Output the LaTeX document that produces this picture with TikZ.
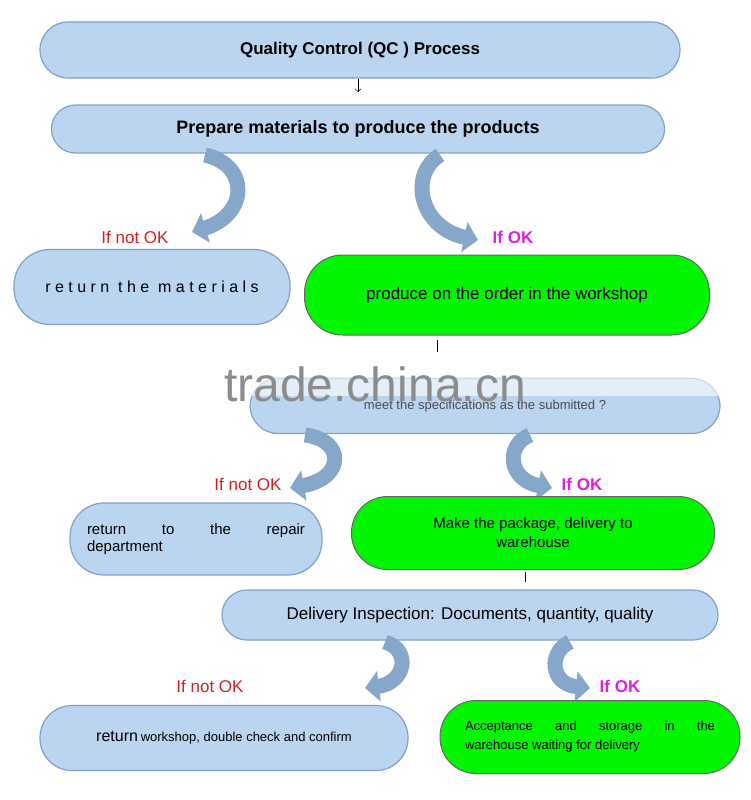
\documentclass[tikz,border=0pt]{standalone}
\usepackage{fontspec}
\setmainfont{Liberation Sans}
\usetikzlibrary{arrows.meta}
\definecolor{bfill}{HTML}{BBD5F0}
\definecolor{bline}{HTML}{7FA2CC}
\definecolor{gfill}{HTML}{00F500}
\definecolor{arr}{HTML}{86A6CA}
\definecolor{nred}{HTML}{D81E1E}
\definecolor{nmag}{HTML}{E020E0}
\begin{document}
\begin{tikzpicture}[x=1pt,y=-1pt,
  pill/.style={draw=bline,line width=1.2pt,fill=bfill,rounded corners=28pt,inner sep=2pt,align=center},
  gpill/.style={draw=black!60,line width=1pt,fill=gfill,rounded corners=38pt,inner sep=2pt,align=center},
  carr/.style={draw=arr,line width=15pt,-{Triangle[width=30pt,length=14pt]}},
  no/.style={text=nred,font=\fontsize{17}{19}\selectfont},
  ok/.style={text=nmag,font=\bfseries\fontsize{17}{19}\selectfont}]
\useasboundingbox (0,0) rectangle (750,800);
\fill[white] (0,0) rectangle (750,800);
\node[pill,minimum width=640pt,minimum height=56pt,font=\bfseries\fontsize{17}{19}\selectfont] (t) at (360,50) {Quality Control (QC ) Process};
\node[pill,minimum width=613pt,minimum height=48pt,rounded corners=24pt,font=\bfseries\fontsize{18}{20}\selectfont] (p) at (358,129) {Prepare materials to produce the products};
\draw[-{Straight Barb[length=3pt]},thin] (358,79) -- (358,92);
\node[pill,minimum width=276pt,minimum height=75pt,rounded corners=36pt,font=\fontsize{16}{18}\selectfont] (r1) at (152,287) {r e t u r n\ \ t h e\ \ m a t e r i a l s};
\node[gpill,minimum width=405pt,minimum height=80pt,font=\fontsize{17}{19}\selectfont] (g1) at (507,295) {produce on the order in the workshop};
\draw[carr] (205,155) .. controls (250,165) and (248,215) .. (192,232);
\draw[carr] (440,155) .. controls (408,175) and (420,228) .. (478,240);
\node[no] (n1) at (135,237) {If not OK};
\node[ok] (o1) at (513,237) {If OK};
\draw[thin] (437,340) -- (437,352);
\node[pill,minimum width=470pt,minimum height=55pt,font=\fontsize{13}{15}\selectfont,text=black!70] (m) at (485,406) {\raisebox{-2pt}{meet the specifications as the submitted ?}};
\fill[white,opacity=0.6] (250,378) rectangle (720,396);
\node[text=gray!90,font=\fontsize{48}{52}\selectfont] (wm) at (375,384) {trade.china.cn};
\draw[carr] (305,435) .. controls (345,440) and (345,478) .. (290,488);
\draw[carr] (530,435) .. controls (505,445) and (508,480) .. (552,488);
\node[no] (n2) at (248,484) {If not OK};
\node[ok] (o2) at (582,484) {If OK};
\node[pill,minimum width=252pt,minimum height=72pt,rounded corners=34pt,font=\fontsize{15}{17}\selectfont,text width=218pt,align=justify] (r2) at (196,539) {return \hfill to \hfill the \hfill repair\\ department};
\node[gpill,minimum width=363pt,minimum height=73pt,rounded corners=36pt,font=\fontsize{15}{19}\selectfont] (g2) at (533,533) {Make the package, delivery to\\ warehouse};
\draw[thin] (525,572) -- (525,582);
\node[pill,minimum width=496pt,minimum height=50pt,rounded corners=25pt,font=\fontsize{17}{19}\selectfont] (d) at (470,615) {Delivery Inspection: Documents, quantity, quality};
\draw[carr] (385,642) .. controls (412,650) and (405,683) .. (365,688);
\draw[carr] (570,642) .. controls (548,652) and (550,684) .. (590,688);
\node[no] (n3) at (210,686) {If not OK};
\node[ok] (o3) at (620,686) {If OK};
\node[pill,minimum width=368pt,minimum height=65pt,rounded corners=32pt] (r3) at (224,738) {{\fontsize{16}{18}\selectfont return} {\fontsize{13}{15}\selectfont workshop, double check and confirm}};
\node[gpill,minimum width=300pt,minimum height=73pt,rounded corners=36pt,font=\fontsize{13}{19}\selectfont,text width=250pt,align=justify] (g3) at (590,737) {Acceptance \hfill and \hfill storage \hfill in \hfill the\\ warehouse waiting for delivery};
\end{tikzpicture}
\end{document}
